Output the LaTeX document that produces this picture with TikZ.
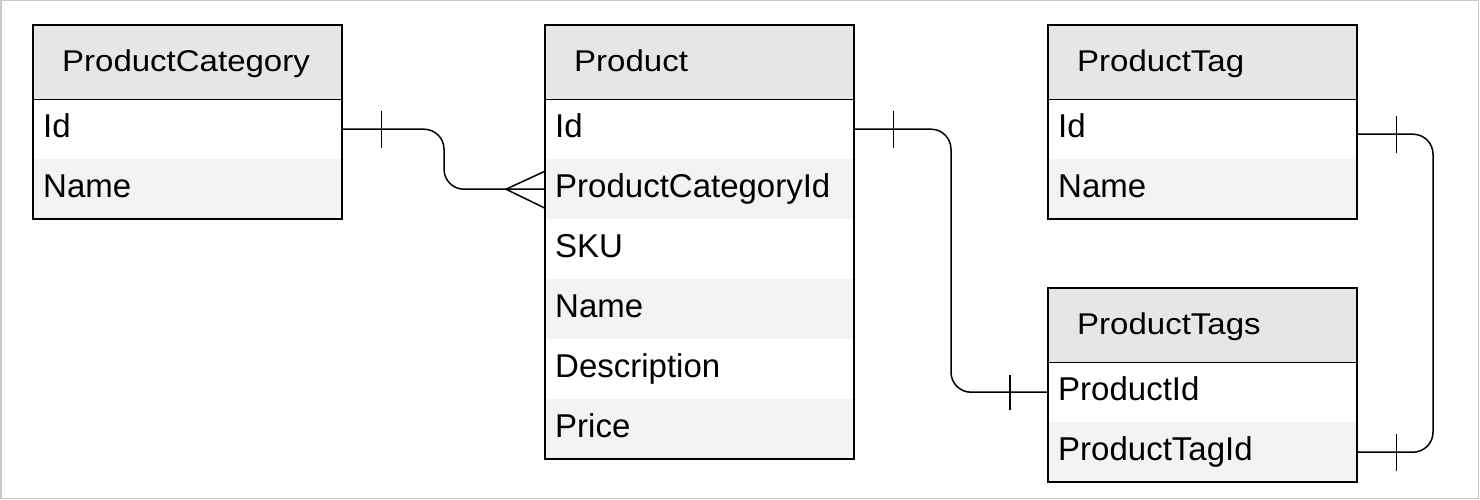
\documentclass[tikz,border=0pt]{standalone}
\usepackage{fontspec}
\setmainfont{Liberation Sans}
\newfontfamily\hdrfont[FakeStretch=1.1]{Liberation Sans}
\usetikzlibrary{calc}
\definecolor{hdrfill}{RGB}{230,230,230}
\definecolor{altfill}{RGB}{243,243,243}
\definecolor{frame}{RGB}{200,200,200}
\tikzset{
  base/.style={rectangle, anchor=north west, align=left, draw=none},
  hdr/.style={base, font=\hdrfont\fontsize{30}{36}\selectfont, fill=hdrfill, minimum height=74, inner xsep=29, inner ysep=0, text width=251, text height=24, text depth=6},
  rowa/.style={base, font=\fontsize{33}{39}\selectfont, fill=white, minimum height=60, inner xsep=10, inner ysep=0, text width=289, text height=23, text depth=7},
  rowb/.style={rowa, fill=altfill},
  tblframe/.style={line width=2pt, draw=black},
  sep/.style={line width=1pt, draw=black},
  conn/.style={line width=1.5pt, draw=black},
}
\begin{document}
\begin{tikzpicture}[x=1pt, y=-1pt]
\useasboundingbox (0,0) rectangle (1480,500);
\draw[frame, line width=1.5pt] (0.75,0.75) rectangle (1478.5,498.5);

% ProductCategory
\node[hdr] (pc) at (33,25) {ProductCategory};
\node[rowa] (pc-id) at (33,99) {Id};
\node[rowb] (pc-name) at (33,159) {Name};
\draw[tblframe] (pc.north west) rectangle (pc-name.south east);
\draw[sep] (pc.south west) -- (pc.south east);

% Product
\node[hdr] (pr) at (545,25) {Product};
\node[rowa] (pr-id) at (545,99) {Id};
\node[rowb] (pr-cat) at (545,159) {ProductCategoryId};
\node[rowa] (pr-sku) at (545,219) {SKU};
\node[rowb] (pr-name) at (545,279) {Name};
\node[rowa] (pr-desc) at (545,339) {Description};
\node[rowb] (pr-price) at (545,399) {Price};
\draw[tblframe] (pr.north west) rectangle (pr-price.south east);
\draw[sep] (pr.south west) -- (pr.south east);

% ProductTag
\node[hdr] (pt) at (1048,25) {ProductTag};
\node[rowa] (pt-id) at (1048,99) {Id};
\node[rowb] (pt-name) at (1048,159) {Name};
\draw[tblframe] (pt.north west) rectangle (pt-name.south east);
\draw[sep] (pt.south west) -- (pt.south east);

% ProductTags
\node[hdr] (pts) at (1048,288) {ProductTags};
\node[rowa] (pts-pid) at (1048,362) {ProductId};
\node[rowb] (pts-tid) at (1048,422) {ProductTagId};
\draw[tblframe] (pts.north west) rectangle (pts-tid.south east);
\draw[sep] (pts.south west) -- (pts.south east);

% Connector 1: ProductCategory.Id -> Product.ProductCategoryId (one to many)
\coordinate (m1) at (444,0);
\coordinate (cf) at ($(pr-cat.west)+(-39,0)$);
\draw[conn, rounded corners=20pt] (pc-id.east) -- (pc-id.east -| m1) -- (pr-cat.west -| m1) -- (pr-cat.west);
\draw[conn] (pc-id.east) ++(39,-18) -- ++(0,37);
\draw[conn] (cf) -- ($(pr-cat.west)+(0,-18)$);
\draw[conn] (cf) -- ($(pr-cat.west)+(0,19)$);

% Connector 2: Product.Id -> ProductTags.ProductId
\coordinate (m2) at (951,0);
\draw[conn, rounded corners=20pt] (pr-id.east) -- (pr-id.east -| m2) -- (pts-pid.west -| m2) -- (pts-pid.west);
\draw[conn] (pr-id.east) ++(39,-18) -- ++(0,37);
\draw[conn] (pts-pid.west) ++(-38,-17) -- ++(0,35);

% Connector 3: ProductTag.Id -> ProductTags.ProductTagId
\coordinate (m3) at (1433,0);
\coordinate (c3) at ($(pt-id.east)+(0,5)$);
\draw[conn, rounded corners=20pt] (c3) -- (c3 -| m3) -- (pts-tid.east -| m3) -- (pts-tid.east);
\draw[conn] (c3) ++(39,-18) -- ++(0,37);
\draw[conn] (pts-tid.east) ++(39,-18) -- ++(0,37);
\end{tikzpicture}
\end{document}
